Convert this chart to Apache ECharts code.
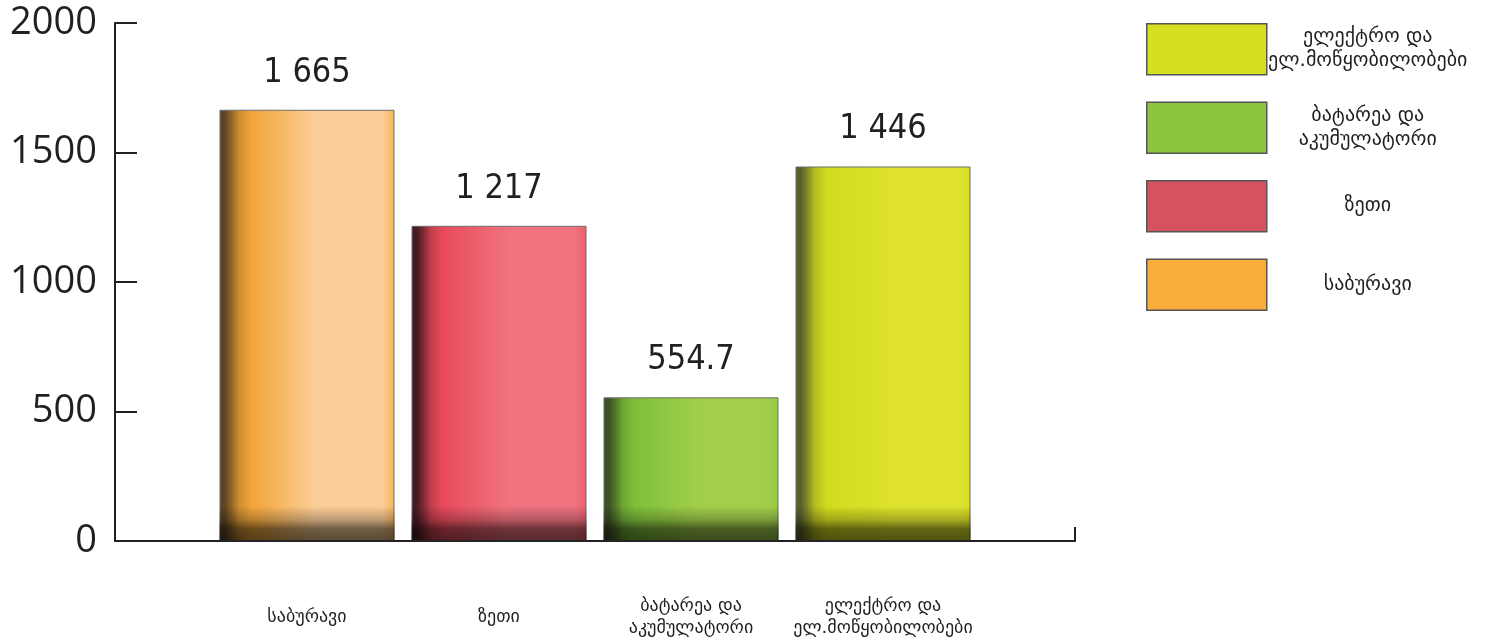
<!DOCTYPE html>
<html>
<head>
<meta charset="utf-8">
<script src="https://cdn.jsdelivr.net/npm/echarts@6/dist/echarts.min.js"></script>
<style>
  html, body { margin: 0; padding: 0; background: #ffffff; }
  #chart { width: 1493px; height: 641px; }
</style>
</head>
<body>
<div id="chart"></div>
<script>
// ---- data ----
const categories = ['საბურავი', 'ზეთი', 'ბატარეა და\nაკუმულატორი', 'ელექტრო და\nელ.მოწყობილობები'];
const values = [1665, 1217, 554.7, 1446];
const legendOrder = [3, 2, 1, 0];
const yTicks = [0, 500, 1000, 1500, 2000];

// ---- styling ----
const palette = [
  { solid: '#fbad3b', dark: '#5f4420', mid: '#f2a537', light: '#fbcd98', right: '#f6b35a' },
  { solid: '#d5525f', dark: '#4a1a22', mid: '#e84a5b', light: '#f0737f', right: '#ea6171' },
  { solid: '#8cc63f', dark: '#3c5222', mid: '#7ec03a', light: '#a2cf4b', right: '#98ca45' },
  { solid: '#d6e021', dark: '#5b5f2a', mid: '#d2dc1d', light: '#dee22d', right: '#d7dd24' }
];
const textColor = '#231f20';
const georgianFont = '"DejaVu Sans", sans-serif';
const valueFont = '"DejaVu Sans Condensed", "DejaVu Sans", sans-serif';

const axisCats = [''].concat(categories, ['']);

function fmt(v) {
  if (v >= 1000) {
    const s = String(Math.round(v));
    return s.slice(0, s.length - 3) + ' ' + s.slice(s.length - 3);
  }
  return String(v);
}

function barGradient(p) {
  return new echarts.graphic.LinearGradient(0, 0, 1, 0, [
    { offset: 0, color: p.dark },
    { offset: 0.03, color: p.dark },
    { offset: 0.07, color: echarts.color.lerp(0.35, [p.dark, p.mid]) },
    { offset: 0.11, color: echarts.color.lerp(0.75, [p.dark, p.mid]) },
    { offset: 0.18, color: p.mid },
    { offset: 0.55, color: p.light },
    { offset: 0.93, color: p.light },
    { offset: 1, color: p.right }
  ]);
}

const series = categories.map((c, i) => ({
  name: c,
  type: 'bar',
  barWidth: 175,
  barGap: '-100%',
  data: axisCats.map((_, j) => (j === i + 1 ? values[i] : '-')),
  itemStyle: { color: barGradient(palette[i]), borderColor: '#6d6d6d', borderWidth: 1 },
  label: {
    show: true,
    position: 'top',
    distance: 20,
    color: textColor,
    fontFamily: valueFont,
    fontSize: 34,
    formatter: (p) => fmt(p.value)
  },
  emphasis: { disabled: true },
  z: 2
}));

// bottom shading overlay
series.push({
  name: '__shade',
  type: 'bar',
  barWidth: 175,
  barGap: '-100%',
  silent: true,
  data: axisCats.map((_, j) => (j >= 1 && j <= values.length ? values[j - 1] : '-')),
  itemStyle: {
    color: new echarts.graphic.LinearGradient(0, 506, 0, 541, [
      { offset: 0, color: 'rgba(0,0,0,0)' },
      { offset: 0.4, color: 'rgba(0,0,0,0.25)' },
      { offset: 0.65, color: 'rgba(0,0,0,0.55)' },
      { offset: 1, color: 'rgba(0,0,0,0.64)' }
    ], true)
  },
  label: { show: false },
  emphasis: { disabled: true },
  tooltip: { show: false },
  z: 3
});

const chart = echarts.init(document.getElementById('chart'), null, { renderer: 'canvas' });
chart.setOption({
  animation: false,
  backgroundColor: '#ffffff',
  grid: { left: 115, right: 418, top: 23, bottom: 100, containLabel: false },
  legend: {
    orient: 'vertical',
    left: 1146,
    top: 23,
    padding: 0,
    itemWidth: 120,
    itemHeight: 51,
    itemGap: 26,
    icon: 'rect',
    selectedMode: false,
    data: legendOrder.map((i) => ({
      name: categories[i],
      itemStyle: { color: palette[i].solid, borderColor: '#555555', borderWidth: 1.5 }
    })),
    formatter: (name) => name.split('\n').map((l) => '{t|' + l + '}').join('\n'),
    textStyle: {
      color: textColor,
      rich: {
        t: { width: 192, align: 'center', fontSize: 20, lineHeight: 24, fontFamily: georgianFont, color: textColor }
      }
    }
  },
  xAxis: {
    type: 'category',
    data: axisCats,
    boundaryGap: false,
    axisLine: { show: true, lineStyle: { color: textColor, width: 2 } },
    axisTick: {
      show: true,
      inside: true,
      length: 14,
      interval: (idx) => idx === axisCats.length - 1,
      lineStyle: { color: textColor, width: 2 }
    },
    axisLabel: {
      interval: 0,
      margin: 76,
      verticalAlign: 'middle',
      color: textColor,
      fontFamily: georgianFont,
      fontSize: 18,
      lineHeight: 22
    },
    splitLine: { show: false }
  },
  yAxis: {
    type: 'value',
    min: yTicks[0],
    max: yTicks[yTicks.length - 1],
    interval: yTicks[1] - yTicks[0],
    axisLine: { show: true, lineStyle: { color: textColor, width: 2 } },
    axisTick: { show: true, inside: true, length: 22, lineStyle: { color: textColor, width: 2 } },
    axisLabel: {
      color: textColor,
      fontFamily: '"Open Sans", sans-serif',
      fontSize: 38,
      margin: 18,
      formatter: (v) => String(v)
    },
    splitLine: { show: false }
  },
  series: series
});
</script>
</body>
</html>
